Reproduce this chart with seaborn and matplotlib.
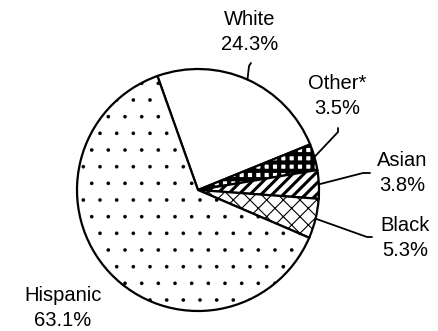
import numpy as np
import matplotlib
matplotlib.use("Agg")
import matplotlib.pyplot as plt
import seaborn as sns

sns.set_theme(style="white")
plt.rcParams['font.family'] = ['Liberation Sans', 'DejaVu Sans']
plt.rcParams['hatch.linewidth'] = 1.0

categories = ["White", "Other*", "Asian", "Black", "Hispanic"]
values = [24.3, 3.5, 3.8, 5.3, 63.1]
value_labels = ["24.3%", "3.5%", "3.8%", "5.3%", "63.1%"]
hatches = ["", "++", "///", "xx", "."]
hatch_lws = [1.0, 3.0, 2.2, 0.8, 0.2]

W, H = 439, 331
fig = plt.figure(figsize=(W / 100, H / 100), dpi=100)
ax = fig.add_axes([0, 0, 1, 1])

cx, cy, r = 198, H - 190, 121
start = 109.6
wedges, _ = ax.pie(values, startangle=start, counterclock=False,
                   center=(cx, cy), radius=r, frame=True,
                   wedgeprops=dict(facecolor="white", edgecolor="black", linewidth=1.6))
ax.set_xlim(0, W)
ax.set_ylim(0, H)
ax.set_axis_off()
for w, h, hl in zip(wedges, hatches, hatch_lws):
    w.set_hatch(h)
    if hasattr(w, "set_hatch_linewidth"):
        w.set_hatch_linewidth(hl)

mids = []
ang = start
for v in values:
    span = v / 100 * 360
    mids.append(ang - span / 2)
    ang -= span

fs = 14.5
label_pos = {
    "White": (250, 32),
    "Other*": (337, 96),
    "Asian": (402, 173),
    "Black": (405, 238),
    "Hispanic": (63, 308),
}
leader_pts = {
    "White": [(249, 66), (251, 63)],
    "Other*": [(338, 132), (338, 128)],
    "Asian": [(363, 173), (370, 173)],
    "Black": [(367, 237), (372, 237)],
}
for cat, lab, m in zip(categories, value_labels, mids):
    x, y = label_pos[cat]
    ax.text(x, H - y, f"{cat}\n{lab}", ha="center", va="center", fontsize=fs,
            linespacing=1.4, color="black")
    if cat in leader_pts:
        ex = cx + r * np.cos(np.radians(m))
        ey = cy + r * np.sin(np.radians(m))
        pts = [(ex, ey)] + [(px, H - py) for px, py in leader_pts[cat]]
        ax.plot([p[0] for p in pts], [p[1] for p in pts], color="black", lw=1.3)

fig.savefig("out.png", dpi=100)
